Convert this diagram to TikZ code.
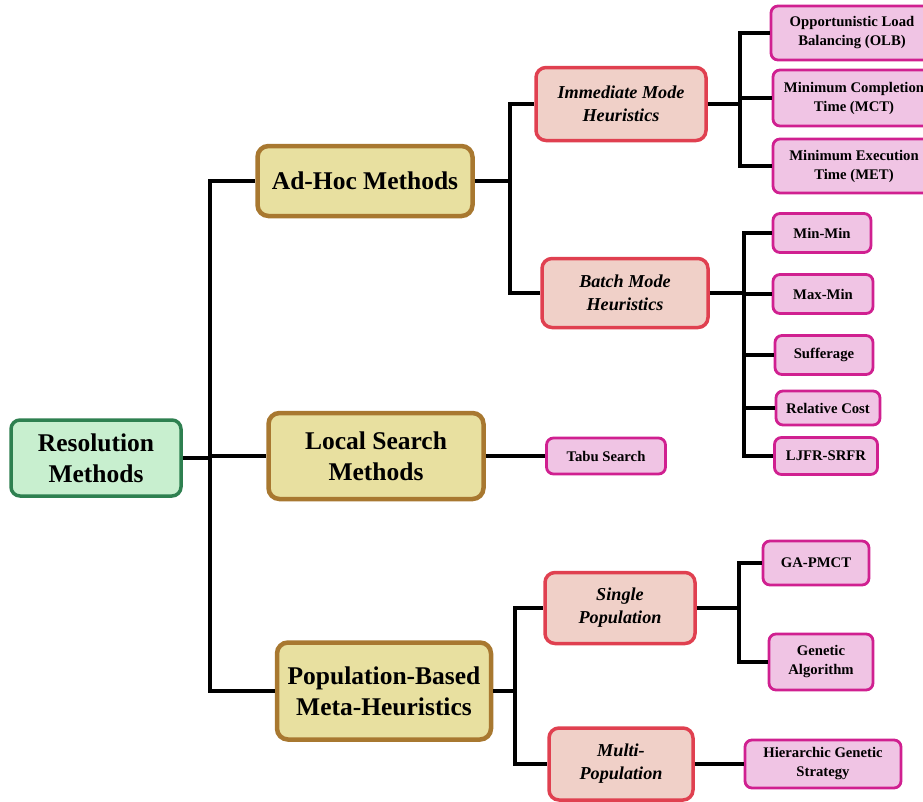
\documentclass[tikz,border=0pt]{standalone}
\usepackage{fontspec}
\setmainfont{Liberation Serif}
\definecolor{rootfill}{HTML}{C8EFCF}
\definecolor{rootline}{HTML}{2E8050}
\definecolor{groupfill}{HTML}{E8E0A0}
\definecolor{groupline}{HTML}{A87830}
\definecolor{modefill}{HTML}{F0D0C8}
\definecolor{modeline}{HTML}{E04050}
\definecolor{leaffill}{HTML}{F0C4E4}
\definecolor{leafline}{HTML}{D02090}
\begin{document}
\begin{tikzpicture}[x=1pt, y=-1pt,
	rootbox/.style={draw=rootline, fill=rootfill, line width=3.5pt, rounded corners=9pt, align=center, inner sep=0pt, font=\fontsize{25.5}{31}\selectfont\bfseries},
	groupbox/.style={draw=groupline, fill=groupfill, line width=4.5pt, rounded corners=11pt, align=center, inner sep=0pt, font=\fontsize{25.5}{31}\selectfont\bfseries},
	modebox/.style={draw=modeline, fill=modefill, line width=3.5pt, rounded corners=10pt, align=center, inner sep=0pt, font=\fontsize{18.2}{23}\selectfont\bfseries\itshape},
	leafbox/.style={draw=leafline, fill=leaffill, line width=2.8pt, rounded corners=7pt, align=center, inner sep=0pt, font=\fontsize{14.7}{19}\selectfont\bfseries},
	link/.style={draw=black, line width=3.8pt}]
	\useasboundingbox (0,0) rectangle (923,801);
	\clip (0,0) rectangle (923,801);
	% root and first level
	\node[rootbox, minimum width=170pt, minimum height=76pt]  (res)    at (96,458)  {Resolution\\Methods};
	\node[groupbox, minimum width=215pt, minimum height=70pt] (adhoc)  at (365,181) {Ad-Hoc Methods};
	\node[groupbox, minimum width=215pt, minimum height=86pt] (local)  at (376,456) {Local Search\\Methods};
	\node[groupbox, minimum width=214pt, minimum height=97pt] (pop)    at (384,691) {Population-Based\\Meta-Heuristics};
	% second level
	\node[modebox, minimum width=170pt, minimum height=73pt]  (imm)    at (621,104) {Immediate Mode\\Heuristics};
	\node[modebox, minimum width=166pt, minimum height=69pt]  (batch)  at (625,293) {Batch Mode\\Heuristics};
	\node[modebox, minimum width=150pt, minimum height=71pt]  (single) at (620,608) {Single\\Population};
	\node[modebox, minimum width=144pt, minimum height=72pt]  (multi)  at (621,764) {Multi-\\Population};
	% leaves
	\node[leafbox, minimum width=119pt, minimum height=36pt]  (tabu)   at (606,456) {Tabu Search};
	\node[leafbox, minimum width=162pt, minimum height=54pt]  (olb)    at (852,33)  {Opportunistic Load\\Balancing (OLB)};
	\node[leafbox, minimum width=162pt, minimum height=56pt]  (mct)    at (854,98)  {Minimum Completion\\Time (MCT)};
	\node[leafbox, minimum width=162pt, minimum height=54pt]  (met)    at (854,166) {Minimum Execution\\Time (MET)};
	\node[leafbox, minimum width=98pt,  minimum height=39pt]  (minmin) at (822,233) {Min-Min};
	\node[leafbox, minimum width=100pt, minimum height=39pt]  (maxmin) at (823,294) {Max-Min};
	\node[leafbox, minimum width=98pt,  minimum height=39pt]  (suff)   at (824,355) {Sufferage};
	\node[leafbox, minimum width=104pt, minimum height=34pt]  (relc)   at (828,408) {Relative Cost};
	\node[leafbox, minimum width=103pt, minimum height=37pt]  (ljfr)   at (826,456) {LJFR-SRFR};
	\node[leafbox, minimum width=106pt, minimum height=44pt]  (gapmct) at (816,563) {GA-PMCT};
	\node[leafbox, minimum width=104pt, minimum height=56pt]  (ga)     at (821,662) {Genetic\\Algorithm};
	\node[leafbox, minimum width=156pt, minimum height=48pt]  (hgs)    at (823,764) {Hierarchic Genetic\\Strategy};
	% connectors
	\draw[link] (res.east) -- ++(27,0) coordinate (resfork);
	\draw[link] (resfork) |- (adhoc.west);
	\draw[link] (resfork) |- (local.west);
	\draw[link] (resfork) |- (pop.west);
	\draw[link] (adhoc.east) -- ++(35,0) coordinate (adfork);
	\foreach \kid in {imm,batch} \draw[link] (adfork) |- (\kid.west);
	\draw[link] (imm.east) -- ++(32,0) coordinate (immfork);
	\foreach \kid in {olb,mct,met} \draw[link] (immfork) |- (\kid.west);
	\draw[link] (batch.east) -- ++(34,0) coordinate (batchfork);
	\foreach \kid in {minmin,maxmin,suff,relc,ljfr} \draw[link] (batchfork) |- (\kid.west);
	\draw[link] (local.east) -- (tabu.west);
	\draw[link] (pop.east) -- ++(22,0) coordinate (popfork);
	\foreach \kid in {single,multi} \draw[link] (popfork) |- (\kid.west);
	\draw[link] (single.east) -- ++(42,0) coordinate (singlefork);
	\foreach \kid in {gapmct,ga} \draw[link] (singlefork) |- (\kid.west);
	\draw[link] (multi.east) -- (hgs.west);
\end{tikzpicture}
\end{document}
